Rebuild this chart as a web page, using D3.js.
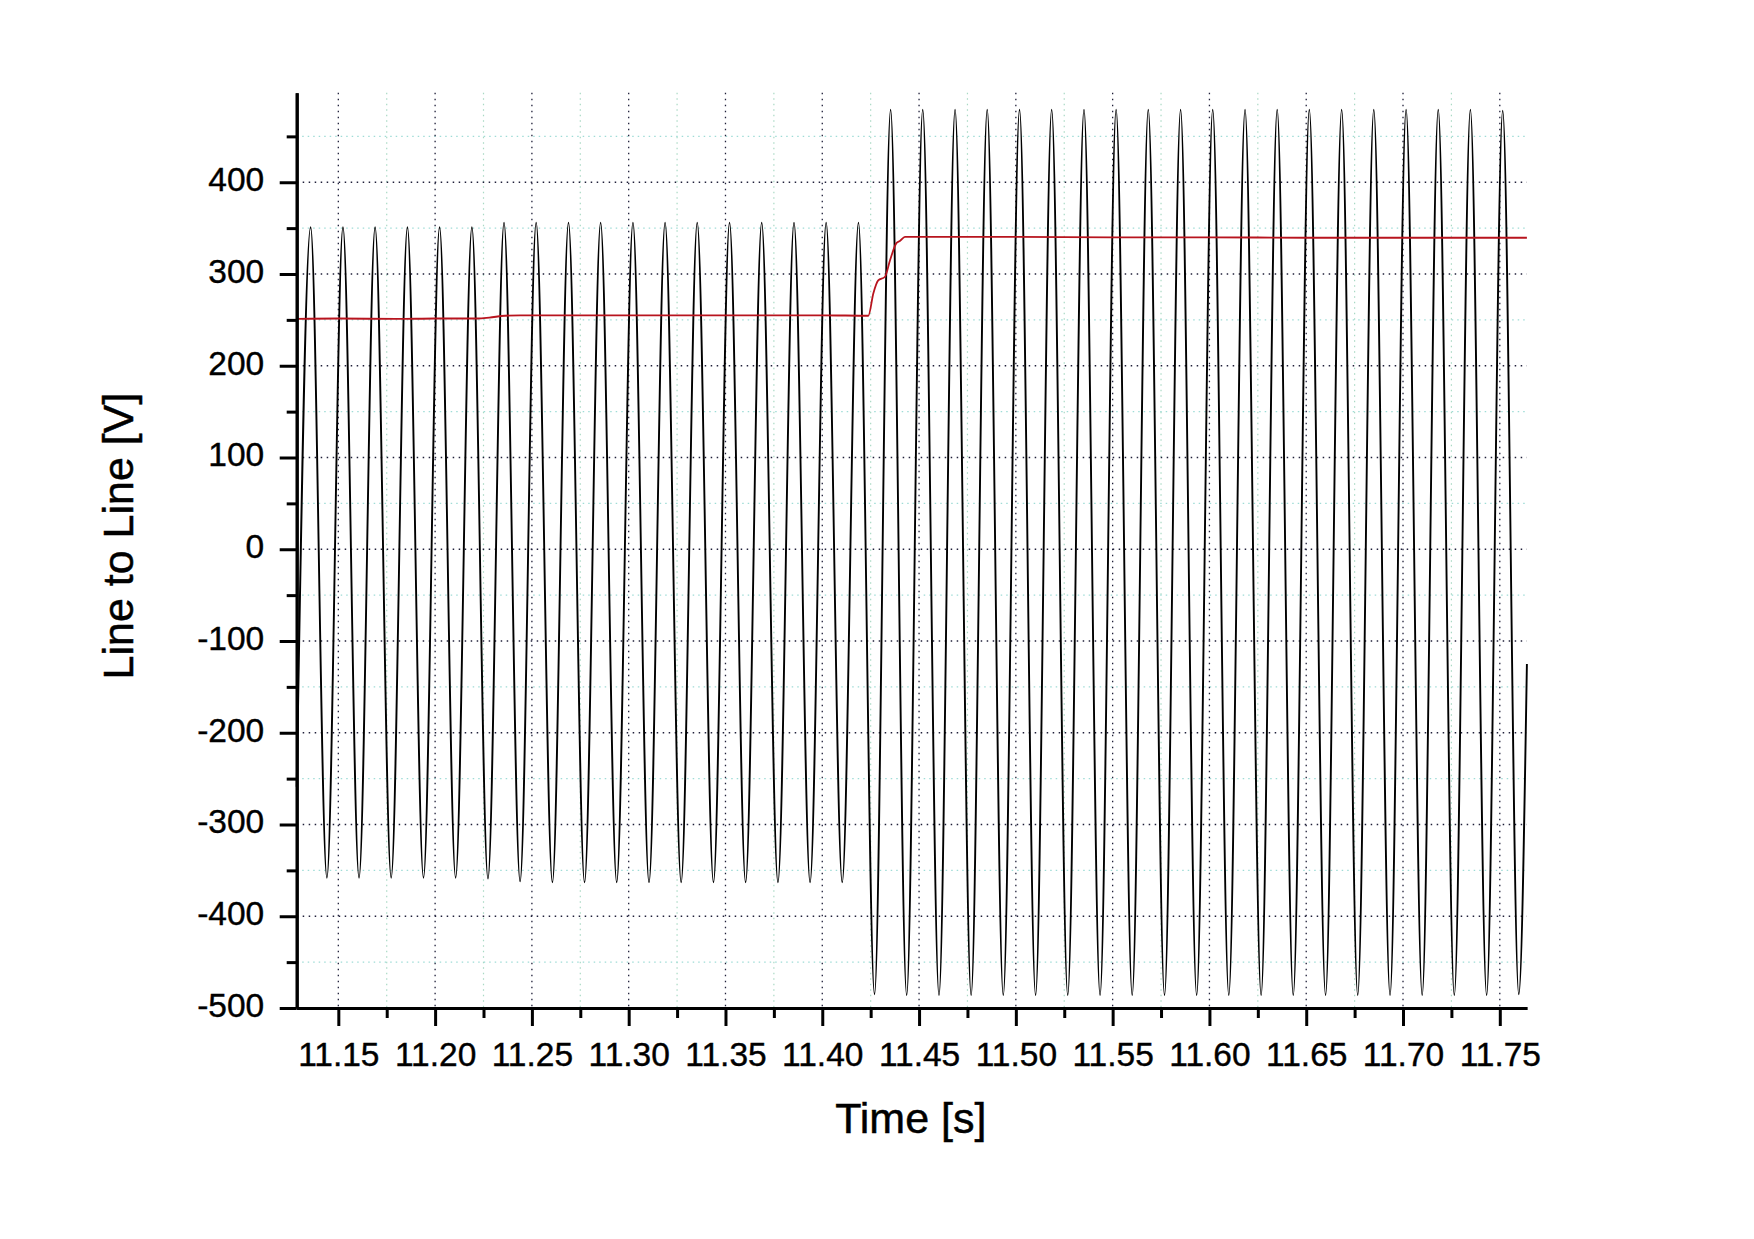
<!DOCTYPE html>
<html><head><meta charset="utf-8">
<script src="https://cdn.jsdelivr.net/npm/d3@7"></script>
<style>
body{margin:0;background:#fff}
svg{display:block}
text{font-family:"Liberation Sans",Arial,Helvetica,sans-serif;fill:#000}
</style>
</head><body>
<svg id="chart" width="1754" height="1239"></svg>
<script>
// ---------- data ----------
const xDomain = [11.1285, 11.764];
const yDomain = [-500, 497.6];

const xMajorTicks = [11.15, 11.20, 11.25, 11.30, 11.35, 11.40, 11.45, 11.50, 11.55, 11.60, 11.65, 11.70, 11.75];
const xTickLabels = ["11.15","11.20","11.25","11.30","11.35","11.40","11.45","11.50","11.55","11.60","11.65","11.70","11.75"];
const xMinorTicks = [11.175, 11.225, 11.275, 11.325, 11.375, 11.425, 11.475, 11.525, 11.575, 11.625, 11.675, 11.725];

const yMajorTicks = [-500, -400, -300, -200, -100, 0, 100, 200, 300, 400];
const yTickLabels = ["-500","-400","-300","-200","-100","0","100","200","300","400"];
const yMinorTicks = [-450, -350, -250, -150, -50, 50, 150, 250, 350, 450];

const xTitle = "Time [s]";
const yTitle = "Line to Line [V]";

// line-to-line voltage: first sample, positive peaks, negative peaks, last sample
const waveStart = [11.1285, -259];
const waveEnd = [11.764, -125];
const peakTimes = [11.1357, 11.1524, 11.1690, 11.1857, 11.2023, 11.2190, 11.2356, 11.2522, 11.2689, 11.2855,
  11.3022, 11.3188, 11.3354, 11.3521, 11.3687, 11.3854, 11.4020, 11.4187, 11.4353, 11.4519,
  11.4686, 11.4852, 11.5019, 11.5185, 11.5352, 11.5518, 11.5684, 11.5851, 11.6017, 11.6184,
  11.6350, 11.6516, 11.6683, 11.6849, 11.7016, 11.7182, 11.7348, 11.7515];
const peakValues = [351, 351, 351, 351, 351, 351, 356, 356, 356, 356,
  356, 356, 356, 356, 356, 356, 356, 356, 479, 479,
  479, 479, 479, 479, 479, 479, 479, 479, 479, 479,
  479, 479, 479, 479, 479, 479, 479, 478];
const troughTimes = [11.1441, 11.1607, 11.1773, 11.1940, 11.2106, 11.2273, 11.2439, 11.2606, 11.2772, 11.2938,
  11.3105, 11.3271, 11.3438, 11.3604, 11.3771, 11.3937, 11.4103, 11.4270, 11.4436, 11.4603,
  11.4769, 11.4935, 11.5102, 11.5268, 11.5435, 11.5601, 11.5768, 11.5934, 11.6100, 11.6267,
  11.6433, 11.6600, 11.6766, 11.6933, 11.7099, 11.7265, 11.7432, 11.7598];
const troughValues = [-358, -358, -358, -358, -358, -359, -362, -363, -363, -363,
  -363, -363, -363, -363, -363, -363, -363, -485, -486, -486,
  -486, -486, -486, -486, -486, -486, -486, -486, -486, -486,
  -486, -486, -486, -486, -486, -486, -486, -485];

// amplitude (red) trace
const ampTimes = [11.1285, 11.150, 11.180, 11.200, 11.222, 11.228, 11.236, 11.244, 11.300, 11.350, 11.400, 11.4238,
  11.4264, 11.4289, 11.4324, 11.4350, 11.4384, 11.4401, 11.4427, 11.470, 11.500, 11.550, 11.600, 11.650, 11.700, 11.764];
const ampValues = [251, 251.5, 251, 251.5, 251.5, 252.5, 254.5, 255, 255, 255, 255, 254.5,
  279, 293, 297, 315, 334, 336, 340.5, 340.5, 340.5, 340, 340, 339.5, 339.5, 339.5];

// ---------- drawing ----------
const svg = d3.select("#chart");
const W = 1754, H = 1239;
svg.append("rect").attr("width", W).attr("height", H).attr("fill", "#fff");

const x = d3.scaleLinear().domain(xDomain).range([296.7, 1526.9]);
const y = d3.scaleLinear().domain(yDomain).range([1008, 92.7]);

const [px0, px1] = x.range();
const [py0, py1] = y.range();

// grid
const grid = svg.append("g");
grid.selectAll(".vminor").data(xMinorTicks).join("line")
  .attr("x1", d => x(d)).attr("x2", d => x(d)).attr("y1", py1).attr("y2", py0)
  .attr("stroke", "#a9d9c4").attr("stroke-width", 1.2).attr("stroke-dasharray", "1.5,4");
grid.selectAll(".hminor").data(yMinorTicks).join("line")
  .attr("x1", px0).attr("x2", px1).attr("y1", d => y(d)).attr("y2", d => y(d))
  .attr("stroke", "#9fdcd6").attr("stroke-width", 1.2).attr("stroke-dasharray", "1.5,4");
grid.selectAll(".vmajor").data(xMajorTicks).join("line")
  .attr("x1", d => x(d)).attr("x2", d => x(d)).attr("y1", py1).attr("y2", py0)
  .attr("stroke", "#20203a").attr("stroke-width", 1.3).attr("stroke-dasharray", "1.5,4.5");
grid.selectAll(".hmajor").data(yMajorTicks.filter(v => v > yDomain[0])).join("line")
  .attr("x1", px0).attr("x2", px1).attr("y1", d => y(d)).attr("y2", d => y(d))
  .attr("stroke", "#20203a").attr("stroke-width", 1.3).attr("stroke-dasharray", "1.5,4.5");

// waveform
const wave = [waveStart]
  .concat(peakTimes.map((t, i) => [t, peakValues[i]]))
  .concat(troughTimes.map((t, i) => [t, troughValues[i]]))
  .concat([waveEnd])
  .sort((a, b) => a[0] - b[0]);

svg.append("path").datum(wave)
  .attr("fill", "none").attr("stroke", "#000").attr("stroke-width", 1.9)
  .attr("d", d3.line().x(d => x(d[0])).y(d => y(d[1])).curve(d3.curveMonotoneX));

// amplitude trace
const amp = ampTimes.map((t, i) => [t, ampValues[i]]);
svg.append("path").datum(amp)
  .attr("fill", "none").attr("stroke", "#b8141e").attr("stroke-width", 1.8)
  .attr("d", d3.line().x(d => x(d[0])).y(d => y(d[1])).curve(d3.curveMonotoneX));

// axes
const fs = 33.5;
const yAxis = svg.append("g").attr("transform", `translate(${px0},0)`)
  .call(d3.axisLeft(y).tickValues(yMajorTicks).tickFormat((d, i) => yTickLabels[i])
    .tickSize(17).tickSizeOuter(0).tickPadding(15.5));
const yMinor = svg.append("g").attr("transform", `translate(${px0},0)`)
  .call(d3.axisLeft(y).tickValues(yMinorTicks).tickFormat("").tickSize(10).tickSizeOuter(0));
const xAxis = svg.append("g").attr("transform", `translate(0,${py0})`)
  .call(d3.axisBottom(x).tickValues(xMajorTicks).tickFormat((d, i) => xTickLabels[i])
    .tickSize(18).tickSizeOuter(0).tickPadding(16));
const xMinor = svg.append("g").attr("transform", `translate(0,${py0})`)
  .call(d3.axisBottom(x).tickValues(xMinorTicks).tickFormat("").tickSize(10).tickSizeOuter(0));

[yAxis, yMinor, xAxis, xMinor].forEach(g => {
  g.selectAll(".domain").attr("stroke", "#000").attr("stroke-width", 3);
  g.selectAll(".tick line").attr("stroke", "#000").attr("stroke-width", 3);
  g.selectAll(".tick text").attr("font-size", fs).attr("fill", "#000")
    .attr("stroke", "#000").attr("stroke-width", 0.4)
    .attr("font-family", '"Liberation Sans",Arial,sans-serif');
});
yAxis.selectAll(".tick text").attr("dy", "0.25em");

// titles
svg.append("text").attr("x", (px0 + px1) / 2 - 1).attr("y", 1133)
  .attr("text-anchor", "middle").attr("font-size", 43)
  .attr("stroke", "#000").attr("stroke-width", 0.5).text(xTitle);
svg.append("text").attr("transform", "translate(133,536) rotate(-90)")
  .attr("text-anchor", "middle").attr("font-size", 43)
  .attr("stroke", "#000").attr("stroke-width", 0.5).text(yTitle);
</script>
</body></html>
